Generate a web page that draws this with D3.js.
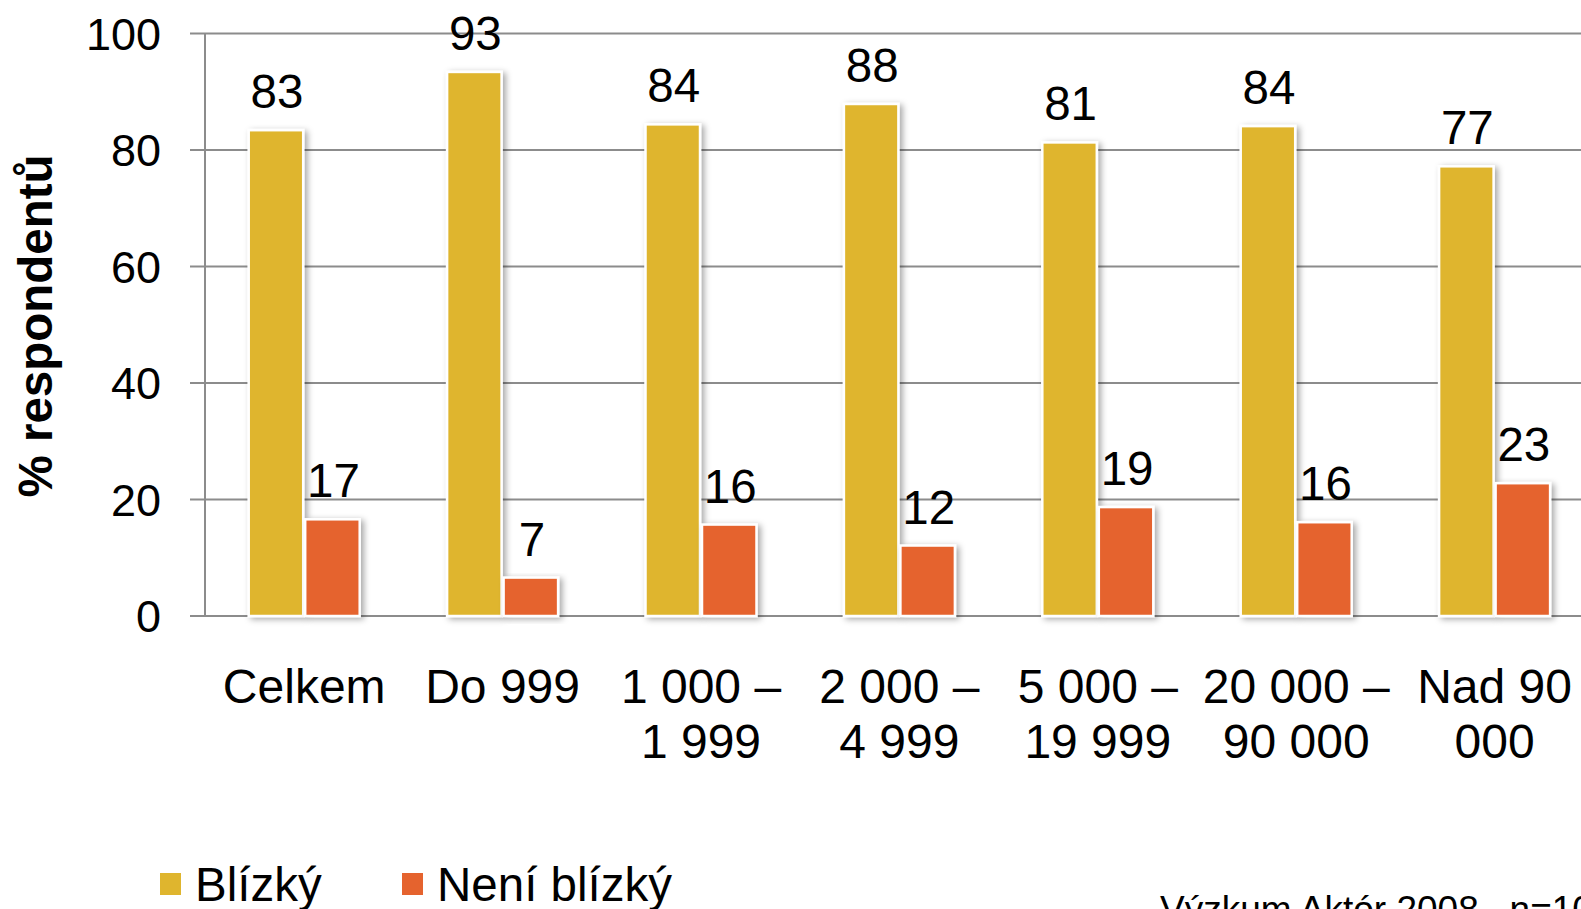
<!DOCTYPE html>
<html><head><meta charset="utf-8">
<script src="https://cdn.jsdelivr.net/npm/d3@7"></script>
<style>
html,body{margin:0;padding:0;background:#fff;overflow:hidden;}
text{font-family:"Liberation Sans",Arial,sans-serif;fill:#000;}
</style></head>
<body><svg id="c" width="1581" height="909"></svg>
<script>
const categories = ["Celkem","Do 999","1 000 – 1 999","2 000 – 4 999","5 000 – 19 999","20 000 – 90 000","Nad 90 000"];
const seriesNames = ["Blízký","Není blízký"];
const blizky = [83.4, 93.4, 84.4, 87.9, 81.3, 84.1, 77.2];
const neniBlizky = [16.6, 6.6, 15.7, 12.1, 18.7, 16.1, 22.8];
const yTicks = [0,20,40,60,80,100];
const colors = ["#DFB52E","#E5632E"];
const yTitle = "% respondentů";
const footer = "Výzkum Aktór 2008 , n=1000";

const svg = d3.select("#c");
const defs = svg.append("defs");
const f = defs.append("filter").attr("id","sh").attr("x","-30%").attr("y","-10%").attr("width","160%").attr("height","130%");
f.append("feDropShadow").attr("dx",3).attr("dy",2).attr("stdDeviation",3).attr("flood-color","#000").attr("flood-opacity",0.35);

const left = 205, band = 198.4;
const x0 = d3.scaleBand().domain(categories).range([left, left + band*categories.length]).paddingInner(0).paddingOuter(0);
const groupW = 113;
const x1 = d3.scaleBand().domain(seriesNames).range([0, groupW]);
const y = d3.scaleLinear().domain([0,100]).range([616, 33.5]);

// gridlines
svg.append("g").selectAll("line").data(yTicks).join("line")
  .attr("x1", 190).attr("x2", 1581)
  .attr("y1", d=>y(d)).attr("y2", d=>y(d))
  .attr("stroke","#8c8c8c").attr("stroke-width",2);
// y axis line
svg.append("line").attr("x1",left).attr("x2",left).attr("y1",y(100)).attr("y2",y(0))
  .attr("stroke","#8c8c8c").attr("stroke-width",2);
// y tick labels
svg.append("g").selectAll("text").data(yTicks).join("text")
  .attr("x",161).attr("y",d=>y(d)).attr("dy","0.36em")
  .attr("text-anchor","end").style("font-size","45px").text(d=>d);

// y title
svg.append("text").attr("transform","translate(52,326) rotate(-90)")
  .attr("text-anchor","middle").style("font-size","47.5px").style("font-weight","bold").text(yTitle);

const data = categories.map((c,i)=>({cat:c, vals:[blizky[i], neniBlizky[i]]}));
const groups = svg.append("g").selectAll("g").data(data).join("g")
  .attr("transform", d=>`translate(${x0(d.cat) + (x0.bandwidth()-groupW)/2},0)`);
groups.selectAll("rect").data(d=>d.vals.map((v,j)=>({v, s:seriesNames[j], j}))).join("rect")
  .attr("x", d=>x1(d.s)+1).attr("width", x1.bandwidth()-2)
  .attr("y", d=>y(d.v)).attr("height", d=>y(0)-y(d.v))
  .attr("fill", d=>colors[d.j]).attr("stroke","#fff").attr("stroke-width",2.5)
  .attr("filter","url(#sh)");
groups.selectAll("text.v").data(d=>d.vals.map((v,j)=>({v, s:seriesNames[j]}))).join("text")
  .attr("class","v")
  .attr("x", d=>x1(d.s)+x1.bandwidth()/2+1).attr("y", d=>y(d.v)-22)
  .attr("text-anchor","middle").style("font-size","47.5px").text(d=>d3.format(".0f")(d.v));

// category labels with wrapping
const ctx = document.createElement("canvas").getContext("2d");
ctx.font = '48px "Liberation Sans", Arial, sans-serif';
function wrap(s, maxW){
  const words = s.split(" "); const lines=[]; let cur="";
  for(const w of words){
    const t = cur ? cur+" "+w : w;
    if(ctx.measureText(t).width > maxW && cur){ lines.push(cur); cur=w; } else cur=t;
  }
  if(cur) lines.push(cur); return lines;
}
const cl = svg.append("g").selectAll("text").data(categories).join("text")
  .attr("text-anchor","middle").style("font-size","48px")
  .attr("transform", d=>`translate(${x0(d)+x0.bandwidth()/2},703)`);
cl.each(function(d){
  const lines = wrap(d, band-4);
  d3.select(this).selectAll("tspan").data(lines).join("tspan")
    .attr("x",0).attr("y",(l,i)=>i*55).text(l=>l);
});

// legend
const leg = svg.append("g");
const legX = [160, 402];
seriesNames.forEach((s,i)=>{
  leg.append("rect").attr("x",legX[i]).attr("y",873).attr("width",21).attr("height",22).attr("fill",colors[i]);
  leg.append("text").attr("x",legX[i]+35).attr("y",901).style("font-size","47.5px").text(s);
});

// footer
svg.append("text").attr("x",1160).attr("y",922).style("font-size","37px").text(footer);
</script></body></html>
